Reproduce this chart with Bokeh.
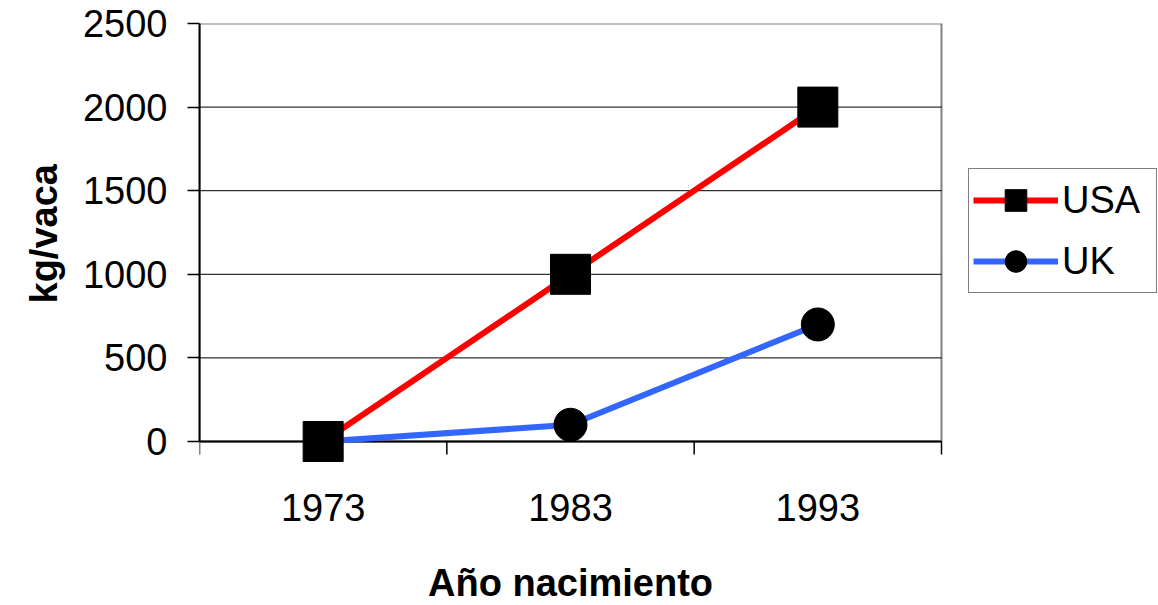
from bokeh.plotting import figure
from bokeh.models import Range1d, FixedTicker, Legend, LegendItem, Title
from bokeh.core.properties import value
from bokeh.embed import file_html
from bokeh.resources import INLINE

# Kilograms per cow by year of birth
years = ["1973", "1983", "1993"]
usa_kg = [0, 1000, 2000]
uk_kg = [0, 100, 700]
y_ticks = [0, 500, 1000, 1500, 2000, 2500]
x_title = "Año nacimiento"
y_title = "kg/vaca"

FONT = "Liberation Sans"
BORDER = "#808080"

# page geometry (pixels)
W, H = 1158, 605
BOX_LEFT, BOX_RIGHT, BOX_TOP, BOX_BOTTOM = 199, 941, 23, 441
TICK_LEN = 13
LABEL_DROP = 66      # category labels, below the zero line
TITLE_DROP = 141     # x title, below the zero line

n = len(years)
x_pos = [i + 0.5 for i in range(n)]      # category centres
slot_edges = list(range(n + 1))          # tick marks between categories
y_top = y_ticks[-1]

# the drawing frame runs to the page's right and bottom edges (room for the
# key and the category labels); the plot box covers x 0..n and y 0..y_top
x_end = n * (W - BOX_LEFT) / (BOX_RIGHT - BOX_LEFT)
units_per_px = y_top / (BOX_BOTTOM - BOX_TOP)
y_low = -(H - BOX_BOTTOM) * units_per_px

p = figure(
    width=W, height=H,
    output_backend="svg", toolbar_location=None,
    x_range=Range1d(0, x_end), y_range=Range1d(y_low, y_top),
    min_border_left=BOX_LEFT, min_border_right=0,
    min_border_top=BOX_TOP, min_border_bottom=0,
    background_fill_color="white", border_fill_color="white",
)
p.outline_line_color = None
p.xgrid.visible = False
p.ygrid.visible = False
p.xaxis.visible = False

# plot box: grey top and right edges
p.quad(left=[0], right=[n], bottom=[y_ticks[0]], top=[y_top],
       fill_color=None, line_color=BORDER, line_width=2)
# horizontal gridlines inside the box
grid_y = y_ticks[1:-1]
p.segment(x0=[0] * len(grid_y), x1=[n] * len(grid_y), y0=grid_y, y1=grid_y,
          line_color="black", line_width=1)
# category axis line on zero
p.segment(x0=[0], x1=[n], y0=[y_ticks[0]], y1=[y_ticks[0]],
          line_color="black", line_width=2)
# tick marks between categories, hanging below the zero line
p.segment(x0=slot_edges, x1=slot_edges,
          y0=[0] * len(slot_edges), y1=[-TICK_LEN * units_per_px] * len(slot_edges),
          line_color="black", line_width=1.5)

# category labels and x title
p.text(x=x_pos, y=[-LABEL_DROP * units_per_px] * n, text=years,
       text_align="center", text_baseline="middle",
       text_font=value(FONT), text_font_size=value("38px"), text_color="black")
p.text(x=[n / 2], y=[-TITLE_DROP * units_per_px], text=[x_title],
       text_align="center", text_baseline="middle",
       text_font=value(FONT), text_font_size=value("38px"),
       text_font_style="bold", text_color="black")

ya = p.yaxis[0]
ya.bounds = (y_ticks[0], y_top)
ya.ticker = FixedTicker(ticks=y_ticks)
ya.minor_tick_line_color = None
ya.major_tick_out = 12
ya.major_tick_in = 0
ya.major_tick_line_color = "black"
ya.major_tick_line_width = 1.5
ya.axis_line_color = "black"
ya.axis_line_width = 2
ya.major_label_standoff = 20
ya.major_label_text_font = FONT
ya.major_label_text_font_size = "38px"
ya.major_label_text_color = "black"

# y title, placed along the box rather than the whole frame
p.add_layout(Title(text=y_title, align="left", vertical_align="bottom",
                   offset=H - 303, standoff=30,
                   text_font=FONT, text_font_size="38px",
                   text_font_style="bold", text_color="black"), "left")

# series lines first, markers on top
usa_line = p.line(x_pos, usa_kg, line_color="#FF0000", line_width=6)
uk_line = p.line(x_pos, uk_kg, line_color="#3366FF", line_width=6)
usa_pts = p.scatter(x_pos, usa_kg, marker="square", size=40,
                    fill_color="black", line_color="black")
uk_pts = p.scatter(x_pos, uk_kg, marker="circle", size=33,
                   fill_color="black", line_color="black")

# key to the right of the box
legend = Legend(
    items=[
        LegendItem(label="USA", renderers=[usa_line, usa_pts]),
        LegendItem(label="UK", renderers=[uk_line, uk_pts]),
    ],
    location=(968 - BOX_LEFT, H - 293),
    orientation="vertical",
    margin=0, padding=4, spacing=7,
    glyph_width=85, glyph_height=54,
    label_standoff=4, label_width=90,
    label_text_font=FONT, label_text_font_size="38px", label_text_color="black",
    border_line_color="black", border_line_width=1.5,
    background_fill_color="white", background_fill_alpha=1.0,
)
p.add_layout(legend, "center")

open("out.html", "w").write(file_html(p, INLINE))
